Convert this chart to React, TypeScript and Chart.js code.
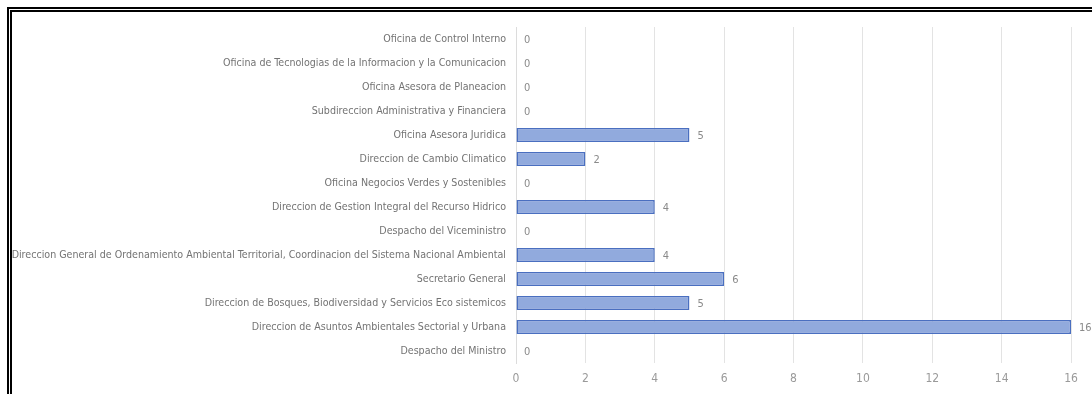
import React, { useEffect, useRef } from "react";
import { Chart, registerables } from "chart.js";

Chart.register(...registerables);

const categories: string[] = [
  "Oficina de Control Interno",
  "Oficina de Tecnologias de la Informacion y la Comunicacion",
  "Oficina Asesora de Planeacion",
  "Subdireccion Administrativa y Financiera",
  "Oficina Asesora Juridica",
  "Direccion de Cambio Climatico",
  "Oficina Negocios Verdes y Sostenibles",
  "Direccion de Gestion Integral del Recurso Hidrico",
  "Despacho del Viceministro",
  "Direccion General de Ordenamiento Ambiental Territorial, Coordinacion del Sistema Nacional Ambiental",
  "Secretario General",
  "Direccion de Bosques, Biodiversidad y Servicios Eco sistemicos",
  "Direccion de Asuntos Ambientales Sectorial y Urbana",
  "Despacho del Ministro",
];

const values: number[] = [0, 0, 0, 0, 5, 2, 0, 4, 0, 4, 6, 5, 16, 0];

const xMin = 0;
const xMax = 16;
const xStep = 2;

const FONT = "'Liberation Sans Narrow', 'DejaVu Sans Condensed', 'Roboto', sans-serif";

const valueLabels = {
  id: "valueLabels",
  afterDatasetsDraw(chart: any) {
    const ctx = chart.ctx;
    const meta = chart.getDatasetMeta(0);
    ctx.save();
    ctx.font = `11px ${FONT}`;
    ctx.fillStyle = "#8a8a8a";
    ctx.textAlign = "left";
    ctx.textBaseline = "middle";
    meta.data.forEach((bar: any, i: number) => {
      const v = chart.data.datasets[0].data[i];
      ctx.fillText(String(v), bar.x + 8, bar.y + 1);
    });
    ctx.restore();
  },
};

export default function App() {
  const canvasRef = useRef<HTMLCanvasElement | null>(null);

  useEffect(() => {
    if (!canvasRef.current) return;
    const chart = new Chart(canvasRef.current, {
      type: "bar",
      data: {
        labels: categories,
        datasets: [
          {
            data: values,
            backgroundColor: "#91aadd",
            borderColor: "#4a6fc0",
            borderWidth: 1.5,
            borderSkipped: false,
            barPercentage: 0.58,
            categoryPercentage: 1,
          },
        ],
      },
      options: {
        indexAxis: "y",
        animation: false,
        responsive: false,
        maintainAspectRatio: false,
        layout: { padding: { top: 27, right: 21, left: 0, bottom: 0 } },
        plugins: {
          legend: { display: false },
          tooltip: { enabled: false },
          title: { display: false },
        },
        scales: {
          x: {
            min: xMin,
            max: xMax,
            ticks: {
              stepSize: xStep,
              color: "#9a9a9a",
              font: { family: FONT, size: 12 },
              padding: 9,
            },
            grid: { color: "#e3e3e3", drawTicks: false, lineWidth: 1 },
            border: { display: false },
            afterFit: (s: any) => {
              s.height = 31;
            },
          },
          y: {
            ticks: {
              color: "#737373",
              font: { family: FONT, size: 10.6 },
              padding: 10,
              autoSkip: false,
            },
            grid: { display: false, drawTicks: false },
            border: { display: true, color: "#dcdcdc", width: 1 },
            afterFit: (s: any) => {
              s.width = 516;
            },
          },
        },
      },
      plugins: [valueLabels],
    });
    return () => chart.destroy();
  }, []);

  return (
    <div
      style={{
        position: "fixed",
        left: 0,
        top: 0,
        width: 1092,
        height: 394,
        background: "#fff",
        overflow: "hidden",
      }}
    >
      <div
        style={{
          position: "absolute",
          left: 7,
          top: 7,
          width: 1200,
          height: 500,
          border: "5px double #000",
        }}
      />
      <canvas
        ref={canvasRef}
        width={1092}
        height={394}
        style={{ position: "absolute", left: 0, top: 0 }}
      />
    </div>
  );
}
